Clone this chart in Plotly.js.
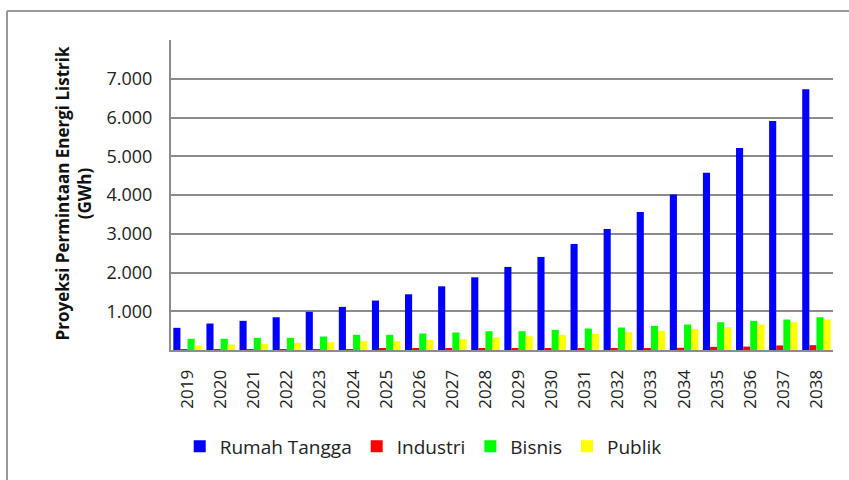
<!DOCTYPE html>
<html>
<head>
<meta charset="utf-8">
<script src="https://cdn.plot.ly/plotly-3.0.1.min.js"></script>
<style>
  html, body { margin: 0; padding: 0; background: #ffffff; }
  #chart { width: 849px; height: 480px; }
</style>
</head>
<body>
<div id="chart"></div>
<script>
// ---- Data (GWh) ----
const years = ["2019","2020","2021","2022","2023","2024","2025","2026","2027","2028",
               "2029","2030","2031","2032","2033","2034","2035","2036","2037","2038"];
const rumahTangga = [572, 683, 753, 845, 985, 1113, 1276, 1438, 1644, 1876,
                     2144, 2402, 2737, 3124, 3562, 4015, 4575, 5211, 5907, 6732];
const industri    = [15, 17, 19, 21, 23, 25, 27, 29, 31, 33,
                     35, 38, 42, 48, 52, 58, 82, 88, 118, 125];
const bisnis      = [289, 289, 314, 314, 348, 392, 392, 425, 451, 485,
                     485, 520, 554, 580, 623, 657, 717, 753, 786, 845];
const publik      = [116, 142, 160, 186, 201, 227, 227, 263, 278, 322,
                     356, 392, 418, 459, 495, 546, 588, 657, 717, 786];
const seriesNames = ["Rumah Tangga", "Industri", "Bisnis", "Publik"];
const yTickVals   = [1000, 2000, 3000, 4000, 5000, 6000, 7000];
const yTickText   = ["1.000", "2.000", "3.000", "4.000", "5.000", "6.000", "7.000"];
const yTitle      = "Proyeksi Permintaan Energi Listrik<br>(GWh)";

const colors = ["#0000ff", "#ff0000", "#00ff00", "#ffff00"];
const seriesValues = [rumahTangga, industri, bisnis, publik];

const FONT = "'Open Sans', Lato, sans-serif";
const gridGray = "#8c8c8c";

const traces = seriesValues.map((vals, i) => ({
  type: "bar",
  name: seriesNames[i],
  x: years,
  y: vals,
  marker: { color: colors[i], line: { width: 0 } },
  hoverinfo: "x+y+name"
}));

const layout = {
  width: 849,
  height: 480,
  margin: { l: 171, r: 16, t: 40, b: 130, pad: 0 },
  paper_bgcolor: "#ffffff",
  plot_bgcolor: "#ffffff",
  barmode: "group",
  bargap: 0.14,
  bargroupgap: 0,
  font: { family: FONT, color: "#222222", size: 18 },
  xaxis: {
    type: "category",
    tickangle: -90,
    ticks: "",
    showgrid: false,
    showline: true,
    linecolor: gridGray,
    linewidth: 2,
    tickfont: { family: FONT, size: 17, color: "#222222" },
    ticklabelstandoff: 11,
    fixedrange: true
  },
  yaxis: {
    range: [0, 8000],
    tickvals: yTickVals,
    ticktext: yTickText,
    ticks: "",
    showgrid: true,
    gridcolor: gridGray,
    gridwidth: 2,
    zeroline: false,
    showline: true,
    linecolor: gridGray,
    linewidth: 2,
    tickfont: { family: FONT, size: 18, color: "#222222" },
    ticklabelstandoff: 13,
    fixedrange: true
  },
  legend: {
    orientation: "h",
    x: 0.381,
    xanchor: "center",
    y: -0.311,
    yanchor: "middle",
    font: { family: FONT, size: 19, color: "#222222" },
    itemclick: false,
    bgcolor: "rgba(0,0,0,0)"
  },
  annotations: [{
    text: yTitle,
    xref: "paper", yref: "paper",
    x: (73 - 171) / 662, y: 0.505,
    xanchor: "center", yanchor: "middle",
    textangle: -90,
    showarrow: false,
    font: { family: FONT, size: 17, color: "#111111", weight: "bold" }
  }],
  shapes: [
    { type: "line", xref: "paper", yref: "paper",
      x0: (7 - 171) / 662, x1: 1.1, y0: (350 - 11) / 310, y1: (350 - 11) / 310,
      line: { color: "#999999", width: 2 } },
    { type: "line", xref: "paper", yref: "paper",
      x0: (7 - 171) / 662, x1: (7 - 171) / 662, y0: (350 - 11) / 310, y1: -0.5,
      line: { color: "#999999", width: 2 } }
  ],
  showlegend: true
};

Plotly.newPlot("chart", traces, layout, { displayModeBar: false, staticPlot: false });
</script>
</body>
</html>
